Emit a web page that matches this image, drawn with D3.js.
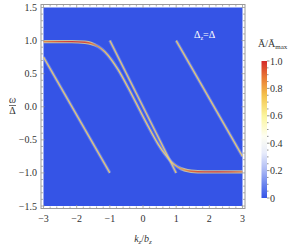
<!DOCTYPE html>
<html>
<head>
<meta charset="utf-8">
<script src="https://cdn.jsdelivr.net/npm/d3@7"></script>
<style>
    body { margin: 0; background: #fff; }
    svg { display: block; font-family: "Liberation Serif", "Times New Roman", serif; }
</style>
</head>
<body>
<svg id="chart" width="291" height="247"></svg>
<script>
const K_RANGE = [-3, 3];
const W_RANGE = [-1.5, 1.5];
const X_TICKS = [-3, -2, -1, 0, 1, 2, 3];
const Y_TICKS = [-1.5, -1, -0.5, 0, 0.5, 1, 1.5];
const BAR_TICKS = [0, 0.2, 0.4, 0.6, 0.8, 1];

// straight bands, end points [kz/bz, omega/Delta]
const BAND_LEFT = [[-3, 0.75], [-1, -1]];
const BAND_MID = [[-1, 1], [1, -1]];
const BAND_RIGHT = [[1, 1], [3, -0.75]];
const BAND_INTENSITY = 0.7;

// bent band
const CURVE_K = [-3, -2.55, -2.15, -1.75, -1.55, -1.35, -1.15, -0.95, -0.75, -0.45, -0.15, 0.15,
    0.45, 0.65, 0.85, 1.05, 1.25, 1.45, 1.85, 2.25, 2.65, 3];
const CURVE_W = [0.985, 0.985, 0.985, 0.975, 0.955, 0.91, 0.83, 0.71, 0.56, 0.29, 0, -0.29,
    -0.56, -0.71, -0.83, -0.91, -0.955, -0.975, -0.985, -0.985, -0.985, -0.985];
const CURVE_I = [0.86, 0.95, 1.0, 0.97, 0.9, 0.8, 0.73, 0.7, 0.7, 0.7, 0.7, 0.7,
    0.7, 0.7, 0.72, 0.76, 0.84, 0.92, 0.98, 1.0, 0.96, 0.88];

// colour bar stops
const CMAP_POS = [0, 0.1, 0.2, 0.33, 0.45, 0.6, 0.75, 0.88, 1];
const CMAP_COL = ["#3554e6", "#6a84ee", "#a9b7f4", "#e8ecfb", "#fefef2", "#fbf59c", "#f4c24c", "#e97934", "#d42a2a"];

const svg = d3.select("#chart");
const defs = svg.append("defs");

const x = d3.scaleLinear().domain(K_RANGE).range([43.5, 242.5]);
const y = d3.scaleLinear().domain(W_RANGE).range([206, 7.5]);
const color = d3.scaleLinear().domain(CMAP_POS).range(CMAP_COL).clamp(true);

const FRAME = { x0: 41, x1: 245, y0: 4.5, y1: 208.5 };
const GRID = "#9a9a9a";
const HALO = "#b9c5f6";

// background of the density plot
svg.append("rect")
    .attr("x", x(K_RANGE[0]))
    .attr("y", y(W_RANGE[1]))
    .attr("width", x(K_RANGE[1]) - x(K_RANGE[0]))
    .attr("height", y(W_RANGE[0]) - y(W_RANGE[1]))
    .attr("fill", color(0));

const plot = svg.append("g");
const line = d3.line().x((d) => x(d[0])).y((d) => y(d[1]));

const drawBand = (pts, core) => {
    plot.append("path").attr("d", line(pts))
        .attr("fill", "none").attr("stroke", HALO).attr("stroke-opacity", 0.35)
        .attr("stroke-width", 3.2);
    plot.append("path").attr("d", line(pts))
        .attr("fill", "none").attr("stroke", core).attr("stroke-opacity", 0.85)
        .attr("stroke-width", 1.3);
};

// gradients along the bent band, one stop per read point
const bandGradient = (id, colorOf, opacityOf) => {
    const g = defs.append("linearGradient").attr("id", id)
        .attr("gradientUnits", "userSpaceOnUse")
        .attr("x1", x(K_RANGE[0])).attr("x2", x(K_RANGE[1]))
        .attr("y1", 0).attr("y2", 0);
    CURVE_K.forEach((k, i) => {
        g.append("stop")
            .attr("offset", (x(k) - x(K_RANGE[0])) / (x(K_RANGE[1]) - x(K_RANGE[0])))
            .attr("stop-color", colorOf(CURVE_I[i]))
            .attr("stop-opacity", opacityOf(CURVE_I[i]));
    });
};
bandGradient("curve-core", (v) => color(v), () => 0.9);
bandGradient("curve-glow", (v) => (v > 0.8 ? color(0.62) : HALO), (v) => (v > 0.8 ? 0.7 : 0.35));

const curvePts = CURVE_K.map((k, i) => [k, CURVE_W[i]]);
const curveLine = d3.line().x((d) => x(d[0])).y((d) => y(d[1])).curve(d3.curveMonotoneX);
plot.append("path").attr("d", curveLine(curvePts))
    .attr("fill", "none").attr("stroke", "url(#curve-glow)").attr("stroke-width", 3.4);
plot.append("path").attr("d", curveLine(curvePts))
    .attr("fill", "none").attr("stroke", "url(#curve-core)").attr("stroke-width", 1.3);

[BAND_LEFT, BAND_MID, BAND_RIGHT].forEach((b) => drawBand(b, color(BAND_INTENSITY)));

// frame with inward ticks
svg.append("rect")
    .attr("x", FRAME.x0).attr("y", FRAME.y0)
    .attr("width", FRAME.x1 - FRAME.x0).attr("height", FRAME.y1 - FRAME.y0)
    .attr("fill", "none").attr("stroke", GRID).attr("stroke-width", 1);

const xMinor = d3.range(-3, 3.001, 0.2);
const yMinor = d3.range(-1.5, 1.501, 0.1);
const ticks = svg.append("g").attr("stroke", GRID).attr("stroke-width", 0.8);
xMinor.forEach((k) => {
    const major = X_TICKS.some((t) => Math.abs(t - k) < 1e-6);
    const len = major ? 3.5 : 2;
    ticks.append("line").attr("x1", x(k)).attr("x2", x(k)).attr("y1", FRAME.y1).attr("y2", FRAME.y1 - len);
    ticks.append("line").attr("x1", x(k)).attr("x2", x(k)).attr("y1", FRAME.y0).attr("y2", FRAME.y0 + len);
});
yMinor.forEach((w) => {
    const major = Y_TICKS.some((t) => Math.abs(t - w) < 1e-6);
    const len = major ? 3.5 : 2;
    ticks.append("line").attr("y1", y(w)).attr("y2", y(w)).attr("x1", FRAME.x0).attr("x2", FRAME.x0 + len);
    ticks.append("line").attr("y1", y(w)).attr("y2", y(w)).attr("x1", FRAME.x1).attr("x2", FRAME.x1 - len);
});

const fmt = (v, d) => (v < 0 ? "\u2212" : "") + Math.abs(v).toFixed(d);

svg.append("g").selectAll("text").data(X_TICKS).join("text")
    .attr("x", (d) => x(d)).attr("y", 221.5)
    .attr("text-anchor", "middle").attr("font-size", 10).attr("fill", "#333")
    .text((d) => fmt(d, 0));

svg.append("g").selectAll("text").data(Y_TICKS).join("text")
    .attr("x", 37).attr("y", (d) => y(d) + 3.5)
    .attr("text-anchor", "end").attr("font-size", 10).attr("fill", "#333")
    .text((d) => fmt(d, 1));

// axis labels: omega over Delta as a stacked fraction
svg.append("text").attr("x", 12.5).attr("y", 102.5)
    .attr("text-anchor", "middle").attr("font-size", 10).attr("fill", "#333")
    .attr("font-style", "italic").text("\u03c9");
svg.append("line").attr("x1", 9).attr("x2", 16).attr("y1", 105.5).attr("y2", 105.5)
    .attr("stroke", "#333").attr("stroke-width", 0.7);
svg.append("text").attr("x", 12.5).attr("y", 114)
    .attr("text-anchor", "middle").attr("font-size", 10).attr("fill", "#333")
    .text("\u0394");

const xl = svg.append("text").attr("x", 143).attr("y", 242)
    .attr("text-anchor", "middle").attr("font-size", 10).attr("fill", "#333");
xl.append("tspan").attr("font-style", "italic").text("k");
xl.append("tspan").attr("font-size", 7).attr("dy", 2).attr("font-style", "italic").text("z");
xl.append("tspan").attr("dy", -2).text("/");
xl.append("tspan").attr("font-style", "italic").text("b");
xl.append("tspan").attr("font-size", 7).attr("dy", 2).attr("font-style", "italic").text("z");

// annotation
const ann = svg.append("text").attr("x", 194).attr("y", 38)
    .attr("font-size", 10).attr("fill", "#fff");
ann.append("tspan").text("\u0394");
ann.append("tspan").attr("font-size", 6).attr("dy", 2).text("z");
ann.append("tspan").attr("dy", -2).text("=\u0394");

// colour bar
const bar = { x: 261.5, w: 5.5, top: 61, bottom: 198 };
const barY = d3.scaleLinear().domain([0, 1]).range([bar.bottom, bar.top]);
const bg = defs.append("linearGradient").attr("id", "bar-grad")
    .attr("x1", 0).attr("x2", 0).attr("y1", 1).attr("y2", 0);
CMAP_POS.forEach((p, i) => bg.append("stop").attr("offset", p).attr("stop-color", CMAP_COL[i]));
svg.append("rect").attr("x", bar.x).attr("y", bar.top)
    .attr("width", bar.w).attr("height", bar.bottom - bar.top)
    .attr("fill", "url(#bar-grad)");

const barTicks = svg.append("g").attr("stroke", "#777").attr("stroke-width", 0.8);
d3.range(0, 1.001, 0.05).forEach((v) => {
    const major = BAR_TICKS.some((t) => Math.abs(t - v) < 1e-6);
    barTicks.append("line")
        .attr("x1", bar.x + bar.w).attr("x2", bar.x + bar.w + (major ? 2.5 : 1.5))
        .attr("y1", barY(v)).attr("y2", barY(v));
});
svg.append("g").selectAll("text").data(BAR_TICKS).join("text")
    .attr("x", 270).attr("y", (d) => barY(d) + 3.5)
    .attr("font-size", 10).attr("fill", "#333")
    .text((d) => (d === 0 ? "0" : d.toFixed(1)));

const bt = svg.append("text").attr("x", 258).attr("y", 47)
    .attr("font-size", 10).attr("fill", "#333");
bt.append("tspan").text("\u0100/\u0100");
bt.append("tspan").attr("font-size", 7).attr("dy", 2).text("max");
</script>
</body>
</html>
